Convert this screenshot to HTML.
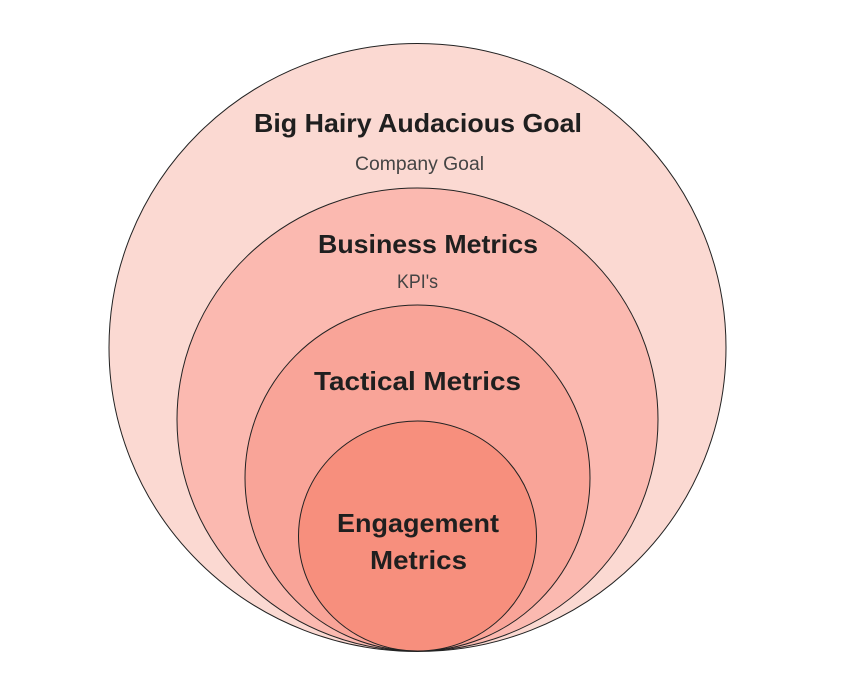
<!DOCTYPE html>
<html><head><meta charset="utf-8"><style>html,body{margin:0;padding:0;background:#fff}svg{display:block}text{font-family:"Liberation Sans",sans-serif;text-anchor:start}.b{font-weight:700;font-size:26px;fill:#1f1f1f}.s{font-size:19px;fill:#444}</style></head><body>
<svg width="867" height="683" viewBox="0 0 867 683" xmlns="http://www.w3.org/2000/svg">
<g stroke="#222" stroke-width="1">
<ellipse cx="417.5" cy="347.5" rx="308.5" ry="304" fill="#fbd9d2"/>
<ellipse cx="417.5" cy="419.5" rx="240.5" ry="231.5" fill="#fbb9b0"/>
<ellipse cx="417.5" cy="478" rx="172.5" ry="173" fill="#f9a498"/>
<ellipse cx="417.5" cy="536" rx="119" ry="115" fill="#f78f7d"/>
</g>
<text class="b" x="254" y="132" textLength="328" lengthAdjust="spacingAndGlyphs">Big Hairy Audacious Goal</text>
<text class="s" x="355" y="170" textLength="129" lengthAdjust="spacingAndGlyphs">Company Goal</text>
<text class="b" x="318" y="253" textLength="220" lengthAdjust="spacingAndGlyphs">Business Metrics</text>
<text class="s" x="397" y="288" textLength="41" lengthAdjust="spacingAndGlyphs">KPI's</text>
<text class="b" x="314" y="390" textLength="207" lengthAdjust="spacingAndGlyphs">Tactical Metrics</text>
<text class="b" x="337" y="532" textLength="162" lengthAdjust="spacingAndGlyphs">Engagement</text>
<text class="b" x="370" y="569" textLength="97" lengthAdjust="spacingAndGlyphs">Metrics</text>
</svg>
</body></html>
